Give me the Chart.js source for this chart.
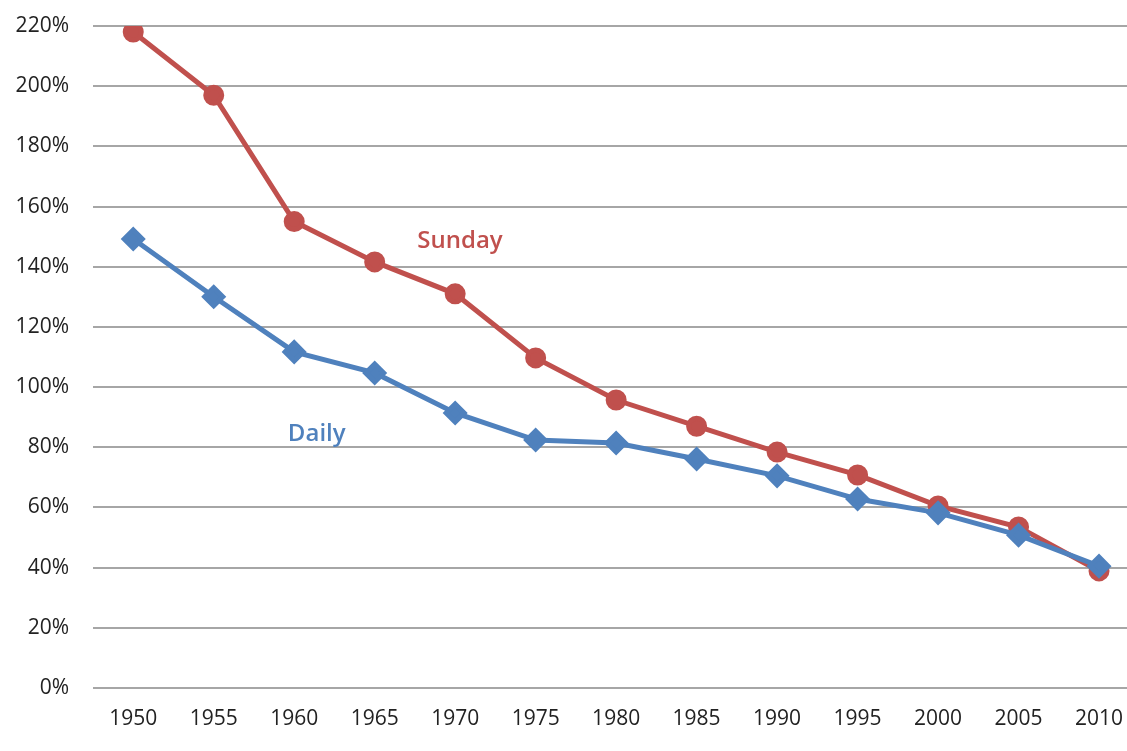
<!DOCTYPE html>
<html><head><meta charset="utf-8">
<script src="https://cdn.jsdelivr.net/npm/chart.js@4.4.1/dist/chart.umd.min.js"></script>
<style>html,body{margin:0;padding:0;background:#fff;overflow:hidden}#wrap{width:1127px;height:751px;overflow:hidden}</style>
</head><body><div id="wrap"><canvas id="c" width="1142" height="751"></canvas></div>
<script>
const years = [1950,1955,1960,1965,1970,1975,1980,1985,1990,1995,2000,2005,2010];
const sunday = [218,197,155,141.6,131,109.7,95.7,87,78.4,70.8,60.5,53.5,38.9];
const daily = [149.2,130,111.7,104.7,91.4,82.4,81.4,76.1,70.5,62.8,58.2,50.8,40.5];
const yTicks = [0,20,40,60,80,100,120,140,160,180,200,220];
const seriesLabels = [{text:'Sunday', x:1970.3, y:148.5, color:'#c0504d'},{text:'Daily', x:1961.4, y:84.4, color:'#4f81bd'}];

const FONT = '"Open Sans", "Liberation Sans", sans-serif';
const labelPlugin = {
  id:'lbl',
  afterDatasetsDraw(chart){
    const ctx=chart.ctx, xs=chart.scales.x, ys=chart.scales.y;
    ctx.save();
    ctx.font='600 24px ' + FONT;
    ctx.textAlign='center'; ctx.textBaseline='middle';
    seriesLabels.forEach(l=>{ctx.fillStyle=l.color; ctx.fillText(l.text, xs.getPixelForValue(l.x), ys.getPixelForValue(l.y));});
    ctx.restore();
  }
};

new Chart(document.getElementById('c'),{
  type:'line',
  data:{datasets:[
    {label:'Daily', data:years.map((y,i)=>({x:y,y:daily[i]})), borderColor:'#4f81bd', backgroundColor:'#4f81bd', borderWidth:5, pointStyle:'rectRot', pointRadius:9, tension:0},
    {label:'Sunday', data:years.map((y,i)=>({x:y,y:sunday[i]})), borderColor:'#c0504d', backgroundColor:'#c0504d', borderWidth:5, pointStyle:'circle', pointRadius:8, tension:0}
  ]},
  options:{
    responsive:false, animation:false,
    layout:{padding:{top:26,right:0,left:0,bottom:0}},
    plugins:{legend:{display:false},tooltip:{enabled:false}},
    scales:{
      x:{type:'linear', min:1947.5, max:2011.8,
        grid:{display:false}, border:{display:false},
        afterBuildTicks(s){s.ticks=years.map(v=>({value:v}));},
        afterFit(s){s.height=63; s.paddingLeft=0; s.paddingRight=0;},
        ticks:{padding:10, color:'#222', font:{size:21, family:FONT}, callback:v=>String(v), maxRotation:0, autoSkip:false}
      },
      y:{min:0,max:220,
        afterBuildTicks(s){s.ticks=yTicks.map(v=>({value:v}));},
        afterFit(s){s.width=93; s.paddingTop=0; s.paddingBottom=0;},
        grid:{color:'#a6a6a6', lineWidth:2, drawTicks:false}, border:{display:false},
        ticks:{padding:24, color:'#222', font:{size:21, family:FONT}, callback:v=>v+'%'}
      }
    }
  },
  plugins:[labelPlugin]
});
</script></body></html>
